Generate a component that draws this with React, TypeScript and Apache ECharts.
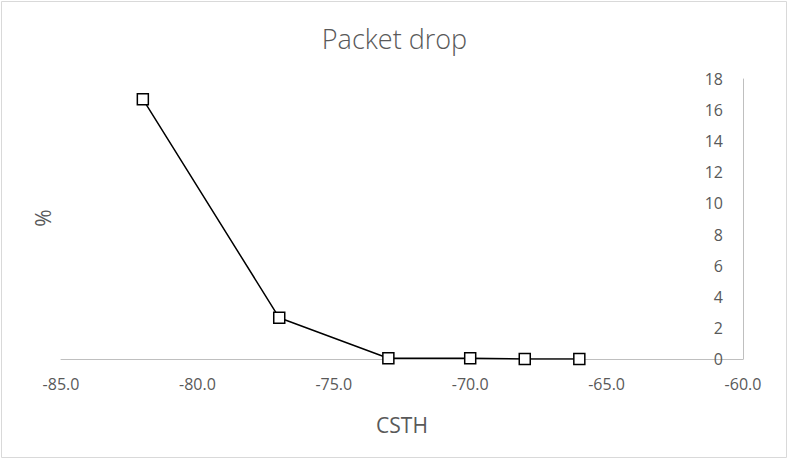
import React, { useEffect, useRef } from "react";
import * as echarts from "echarts";

const csth = [-82, -77, -73, -70, -68, -66];
const dropPct = [16.7, 2.65, 0.05, 0.05, 0.0, 0.0];
const titleText = "Packet drop";
const xName = "CSTH";
const yName = "%";

export default function App() {
  const ref = useRef<HTMLDivElement>(null);
  useEffect(() => {
    if (!ref.current) return;
    const chart = echarts.init(ref.current, null, { renderer: "svg" });
    const font = "'Open Sans', 'Noto Sans', sans-serif";
    chart.setOption({
      animation: false,
      backgroundColor: "#ffffff",
      title: {
        text: titleText,
        left: "center",
        top: 20,
        textStyle: { fontFamily: font, fontSize: 27, fontWeight: 300, color: "#595959" },
      },
      grid: { left: 61, right: 46, top: 79, bottom: 101 },
      xAxis: {
        type: "value",
        min: -85,
        max: -60,
        interval: 5,
        name: xName,
        nameLocation: "middle",
        nameGap: 55,
        nameTextStyle: { fontFamily: font, fontSize: 21, color: "#595959" },
        axisLine: { show: true, onZero: false, lineStyle: { color: "#bfbfbf", width: 1 } },
        axisTick: { show: false },
        splitLine: { show: false },
        axisLabel: {
          fontFamily: font,
          fontSize: 16,
          color: "#595959",
          margin: 17,
          formatter: (v: number) => v.toFixed(1),
        },
      },
      yAxis: {
        type: "value",
        position: "right",
        min: 0,
        max: 18,
        interval: 2,
        axisLine: { show: true, lineStyle: { color: "#bfbfbf", width: 1 } },
        axisTick: { show: false },
        splitLine: { show: false },
        axisLabel: {
          inside: true,
          fontFamily: font,
          fontSize: 16,
          color: "#595959",
          margin: 20,
        },
      },
      graphic: [
        {
          type: "rect",
          shape: { x: 1.5, y: 1.5, width: 785, height: 456 },
          style: { fill: "none", stroke: "#d9d9d9", lineWidth: 1 },
          silent: true,
        },
        {
          type: "text",
          x: 43,
          y: 218,
          rotation: Math.PI / 2,
          style: {
            text: yName,
            fontFamily: font,
            fontSize: 21,
            fill: "#595959",
            textAlign: "center",
            textVerticalAlign: "middle",
          },
        },
      ],
      series: [
        {
          type: "line",
          data: csth.map((x, i) => [x, dropPct[i]]),
          symbol: "rect",
          symbolSize: 11,
          lineStyle: { color: "#000000", width: 1.5 },
          itemStyle: { color: "#ffffff", borderColor: "#000000", borderWidth: 1.5 },
        },
      ],
    });
    return () => chart.dispose();
  }, []);
  return (
    <div
      ref={ref}
      style={{ position: "absolute", left: 0, top: 0, width: 789, height: 460 }}
    />
  );
}
